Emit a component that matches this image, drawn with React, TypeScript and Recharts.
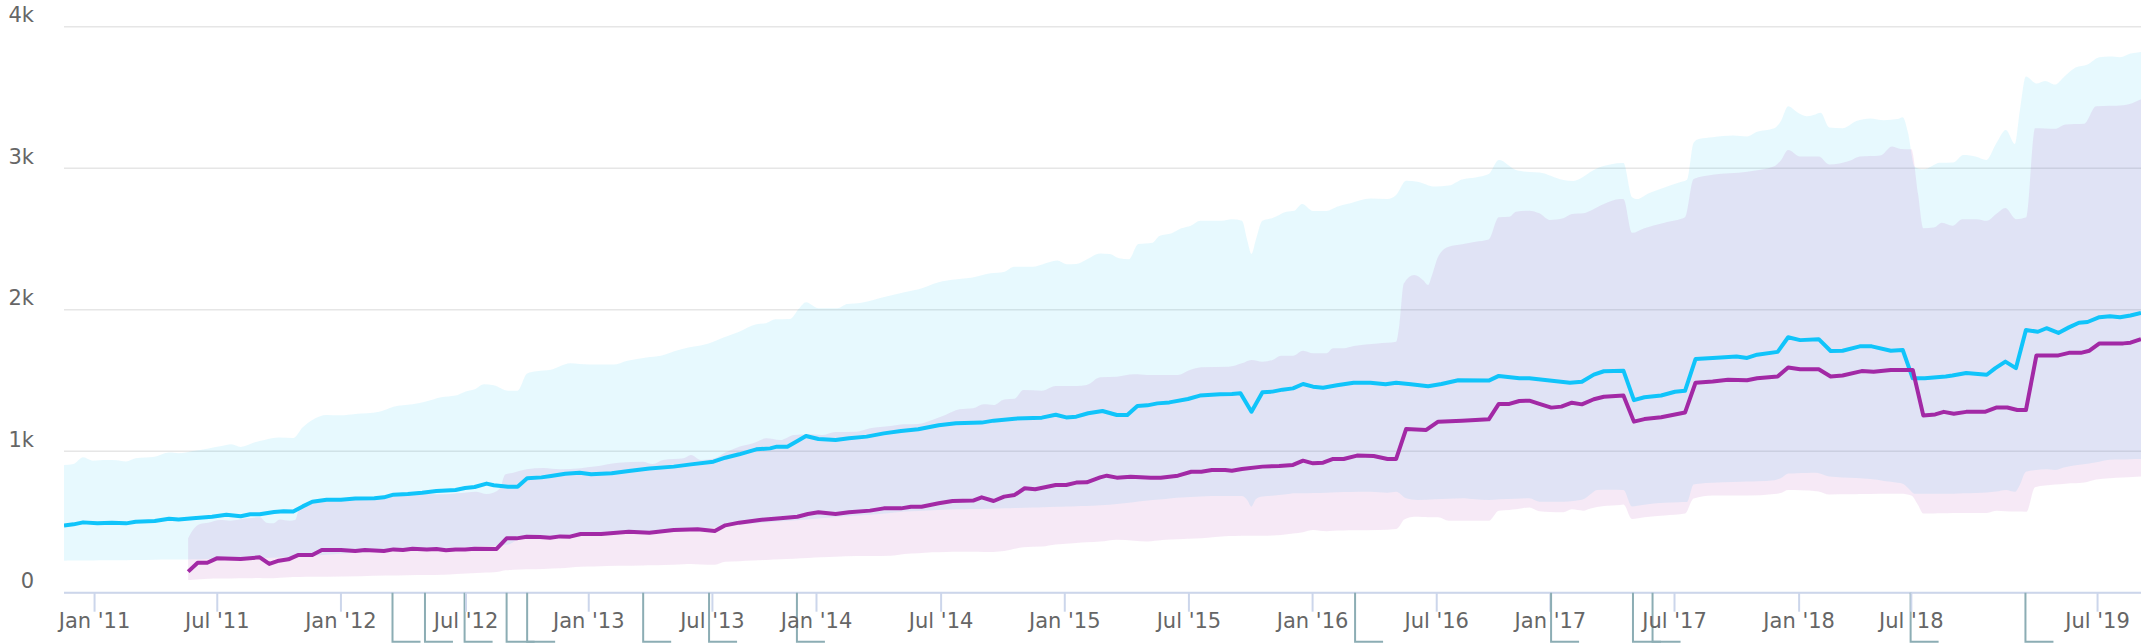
import React from 'react';
import { ComposedChart, Line, Area, XAxis, YAxis, CartesianGrid } from 'recharts';

// x positions are week indices on the (ordinal) time axis
const cyanLine: [number, number][] = [[0,474],[2,483],[4,497],[7,490],[10,495],[13,490],[15,502],[19,507],[22,523],[24,518],[27,526],[31,537],[34,551],[37,540],[39,554],[41,554],[44,570],[46,575],[48,573],[50,610],[52,643],[55,657],[58,657],[61,665],[65,667],[67,674],[69,693],[72,698],[75,707],[78,719],[82,726],[84,740],[86,747],[88.5,771],[90,759],[93,749],[95,749],[97,808],[100,815],[102,825],[105,841],[108,848],[110.4,837],[114.7,844],[118.3,860],[122.6,877],[127.7,891],[131.3,907],[136,926],[138.5,954],[141.4,978],[145,1013],[147.9,1020],[149.3,1032],[151.5,1032],[153.6,1072],[155.4,1107],[158,1086],[161.6,1079],[164.4,1091],[168.1,1103],[171.7,1126],[175.3,1143],[178.9,1155],[183.2,1183],[186.8,1197],[192.2,1202],[194.7,1216],[199.1,1230],[204.8,1237],[207.7,1258],[209.9,1239],[212,1244],[214.5,1268],[217.5,1284],[220.5,1256],[222.7,1256],[224.8,1320],[226.9,1324],[229,1338],[231.5,1345],[235.4,1369],[237.9,1393],[242.1,1402],[244.6,1404],[246.4,1409],[248.7,1279],[251,1416],[253.1,1421],[255.2,1435],[257.4,1444],[259.5,1475],[261.6,1456],[263.7,1449],[266.6,1466],[270.1,1484],[273.6,1484],[276.8,1473],[279,1484],[282.1,1473],[285.7,1459],[288.5,1475],[292,1501],[298.4,1499],[300.5,1532],[304.8,1515],[306.9,1515],[315.4,1484],[317.9,1491],[320.4,1541],[322.5,1565],[326.6,1569],[328.8,1361],[331,1381],[334.5,1394],[337.4,1420],[339.5,1427],[341.7,1651],[345.3,1659],[350.3,1669],[352.5,1659],[354.6,1682],[358.9,1702],[361.1,1805],[363.6,1785],[367.5,1792],[370,1708],[372.5,1710],[376.1,1741],[378.6,1741],[382.6,1710],[385.1,1715],[387.2,1515],[389.7,1515],[394.1,1528],[395.5,1535],[398.4,1553],[402.7,1540],[404.5,1587],[406.6,1633],[408.8,1587],[410.9,1857],[413.4,1844],[415.2,1869],[417.7,1836],[419.9,1875],[422,1908],[423.8,1913],[426.3,1947],[428.5,1954],[430.6,1947],[432.8,1959],[435,1977]];

const purpleLine: [number, number][] = [[26,149],[28,212],[30,212],[32,243],[37,238],[41,250],[43,203],[45,226],[47,236],[49,266],[52,266],[54,302],[58,302],[61,295],[63,302],[67,295],[69,306],[71,302],[73,311],[76,306],[78,309],[80,300],[82,306],[84,306],[86,311],[90.6,309],[92.7,384],[94.8,384],[96.9,396],[99.7,394],[101.8,389],[103.9,398],[106,396],[108.2,415],[112.5,415],[118.3,431],[122.6,424],[127.7,443],[132.7,448],[136.3,436],[138.5,476],[141.4,495],[145.7,514],[150,526],[153.6,537],[155.8,556],[158,568],[161.6,556],[164.4,568],[168.8,580],[171.7,596],[175.3,596],[177.4,608],[179.6,608],[183.2,632],[186.1,648],[190.4,651],[192.2,674],[194.7,648],[196.9,679],[199.1,691],[201.2,738],[203.4,731],[207.7,761],[209.9,761],[212,778],[214.2,780],[217,815],[218.4,827],[220.5,813],[223.4,820],[227.6,813],[229.7,813],[233.3,827],[236.1,855],[238.2,855],[240.4,867],[243.2,867],[244.6,862],[246.7,874],[251,891],[254.5,895],[257.4,903],[259.5,933],[261.6,914],[263.7,919],[265.8,945],[268,945],[270.8,969],[274.3,966],[277.2,945],[279,945],[281.1,1157],[285.3,1150],[287.8,1209],[292.8,1216],[298.4,1225],[300.5,1334],[302.7,1334],[304.8,1355],[306.9,1357],[309,1334],[311.5,1308],[313.6,1315],[315.8,1343],[317.9,1331],[320.4,1367],[322.5,1385],[326.6,1394],[328.8,1209],[331,1227],[334.5,1240],[339.5,1273],[341.7,1484],[345.3,1492],[348.5,1505],[352.5,1502],[354.6,1515],[358.9,1528],[361.1,1592],[363.6,1579],[367.5,1579],[370,1528],[372.5,1535],[376.5,1566],[379,1561],[382.6,1574],[387.2,1574],[389.4,1253],[391.9,1260],[393.7,1278],[395.8,1265],[398.4,1278],[402.3,1278],[404.8,1309],[407,1309],[409.1,1291],[410.9,1291],[413.1,1677],[417.7,1677],[419.9,1695],[422.4,1695],[424.2,1710],[426.3,1762],[431.3,1762],[432.8,1767],[435,1792]];

// [week, low, high]
const cyanBand: [number, number, number][] = [[0,226,903],[2,227,910],[4,227,957],[6,228,933],[9,229,938],[11,229,936],[13,230,928],[15,231,950],[19,233,961],[22,234,990],[24,235,985],[27,237,1001],[30,239,1018],[33,240,1037],[35,241,1049],[37,242,1030],[40,243,1063],[42,245,1079],[45,248,1096],[48,252,1093],[50,258,1169],[52,262,1221],[55,268,1256],[58,275,1254],[61,282,1263],[66,292,1279],[69,298,1315],[73,305,1331],[76,310,1353],[79,316,1381],[82,320,1393],[84,322,1421],[86,325,1437],[88,328,1473],[90,330,1466],[93,340,1428],[95,372,1428],[97,385,1550],[99,390,1565],[102,398,1576],[104,405,1602],[106,408,1621],[110,412,1612],[115,420,1612],[118,425,1640],[122,432,1663],[125,438,1675],[128,445,1708],[131,450,1734],[135,458,1762],[139,470,1814],[141,478,1838],[145,490,1897],[147,496,1904],[149,502,1932],[152,508,1934],[154,514,2010],[155.4,518,2052],[158,525,2010],[162,535,2010],[164,540,2040],[167,548,2050],[172,560,2092],[176,573,2123],[179,578,2144],[183,585,2193],[187,590,2215],[190,592,2226],[194,594,2257],[197,596,2269],[199,598,2304],[203,602,2304],[205,604,2321],[208,607,2347],[210,609,2321],[212,611,2323],[214,612,2351],[217,618,2398],[219,622,2394],[221,628,2363],[223,636,2356],[225,645,2464],[228,655,2474],[229.4,658,2521],[232,667,2540],[234,672,2575],[236,676,2594],[238,680,2629],[242.5,683,2629],[244.6,683,2639],[246.7,683,2629],[247.8,655,2493],[248.7,608,2394],[249.6,660,2493],[251,679,2629],[253,685,2646],[256,695,2693],[257.7,702,2700],[259.3,702,2747],[261.6,704,2698],[264.4,707,2698],[266.6,710,2728],[269.4,712,2752],[273.6,714,2785],[277.2,707,2782],[279,714,2811],[281.1,667,2912],[283.5,655,2905],[287.1,660,2870],[290,664,2877],[292.8,667,2921],[295.6,660,2935],[298.4,655,2959],[300.5,660,3058],[304.1,664,2987],[306.9,667,2973],[309,643,2969],[314,643,2917],[316.1,648,2910],[318.2,660,2940],[319.5,690,2970],[321.1,726,2999],[323.8,728,3026],[326.6,726,3036],[328.4,610,2795],[329.5,615,2782],[331.7,625,2820],[335.2,635,2864],[338.1,640,2897],[339.9,641,2918],[341.3,764,3180],[342.4,770,3206],[345.3,777,3219],[349.6,782,3231],[352.5,785,3224],[354.6,788,3257],[358.2,795,3283],[359.6,810,3334],[361.1,842,3437],[362.9,845,3398],[365,846,3368],[366.8,847,3380],[367.9,840,3391],[369.7,821,3288],[372.5,815,3283],[375.4,810,3334],[378.3,803,3352],[381.2,790,3339],[384,777,3347],[385.1,770,3360],[386.2,740,3250],[387.6,700,3011],[389.4,700,2992],[392.9,700,3039],[395.7,700,3041],[397.8,702,3093],[400.5,705,3081],[402.6,708,3058],[404.7,715,3176],[406.7,726,3270],[408.6,713,3171],[409.6,760,3400],[410.9,854,3648],[413.1,867,3599],[414.9,872,3617],[417,867,3591],[418.8,885,3643],[421.3,900,3712],[423.8,912,3733],[426.3,926,3784],[428.5,939,3789],[430.6,941,3784],[432.8,943,3810],[435,944,3822]];

const purpleBand: [number, number, number][] = [[26,90,384],[27,92,443],[28.5,95,485],[30.2,98,495],[32.7,100,514],[34.8,101,509],[38.3,102,526],[41,104,533],[42.4,102,495],[43.8,103,490],[45.2,106,518],[47.3,109,509],[48.4,111,514],[49.4,111,608],[52.2,112,641],[55,113,655],[62,116,660],[67.6,121,672],[71.8,124,690],[76,125,697],[79.4,127,695],[82.2,132,702],[86.4,140,714],[88.5,142,697],[89.9,144,707],[91.3,150,738],[92.4,158,836],[94.1,162,848],[96.9,165,872],[100.4,168,881],[103.9,172,872],[108.2,184,880],[111.1,186,891],[116.1,190,919],[121.2,193,926],[123.3,194,910],[125.5,196,938],[129.8,201,950],[131.3,203,973],[133.4,200,938],[136.3,198,950],[138.5,219,990],[141.4,222,1032],[144.3,227,1056],[147.1,231,1091],[150,236,1079],[152.9,240,1115],[155.8,245,1119],[158.7,250,1114],[161.6,254,1136],[165.9,259,1138],[168.8,260,1162],[173.1,262,1178],[176,274,1190],[178.9,279,1192],[181.8,285,1221],[184.6,288,1256],[187.5,290,1296],[190.4,289,1303],[192.6,288,1331],[194.7,288,1326],[196.9,294,1366],[199.1,310,1371],[200.9,322,1432],[204.8,326,1428],[207.7,340,1461],[212,352,1461],[214.2,356,1468],[217,361,1522],[220.5,375,1527],[224.1,368,1543],[226.9,362,1538],[230,372,1538],[233.3,378,1538],[235.4,381,1569],[238.2,385,1593],[243.9,400,1597],[246.7,403,1621],[248.7,403,1645],[251,403,1633],[253.1,405,1645],[254.9,408,1675],[257.4,418,1675],[259.5,428,1710],[261.6,443,1692],[264.4,434,1692],[265.8,438,1727],[268,440,1727],[270.1,441,1743],[275.1,443,1762],[279,450,1774],[279.7,470,1900],[280.6,515,2186],[282.8,537,2245],[284.6,535,2210],[285.7,534,2175],[286.4,534,2233],[287.8,533,2375],[290,509,2445],[292.8,509,2462],[295.6,509,2481],[298.4,509,2497],[300.5,580,2653],[302.7,585,2657],[304.1,589,2693],[306.9,603,2700],[309,575,2681],[311.2,570,2634],[314,568,2646],[315.8,589,2676],[318.2,580,2681],[319.7,595,2700],[322.5,612,2747],[325.9,620,2782],[326.6,623,2782],[328.4,520,2543],[331,533,2576],[335.2,545,2615],[339.5,559,2653],[341.3,665,2923],[345.3,687,2954],[352.5,687,2975],[358.2,698,3013],[359.6,705,3057],[361.1,726,3129],[363.6,724,3082],[367.5,716,3082],[369.7,694,3026],[374,695,3052],[376.1,697,3082],[380.4,700,3090],[382.9,700,3154],[384.7,700,3136],[386.9,687,3134],[388.3,620,2820],[389.4,559,2576],[391.6,560,2581],[393.3,561,2615],[395.5,564,2594],[397.6,564,2640],[400.5,564,2640],[402.7,564,2628],[404.8,579,2679],[406.6,576,2718],[408.8,573,2640],[411,572,2653],[412.8,745,3283],[417,764,3278],[419.2,770,3309],[423.1,778,3314],[425.6,800,3437],[431.3,815,3445],[435,821,3488]];

const xTickLabels: [number, string][] = [[6.4,"Jan '11"],[32.1,"Jul '11"],[58.0,"Jan '12"],[84.2,"Jul '12"],[109.9,"Jan '13"],[135.8,"Jul '13"],[157.6,"Jan '14"],[183.7,"Jul '14"],[209.6,"Jan '15"],[235.6,"Jul '15"],[261.5,"Jan '16"],[287.5,"Jul '16"],[311.3,"Jan '17"],[337.3,"Jul '17"],[363.4,"Jan '18"],[386.9,"Jul '18"],[425.9,"Jul '19"]];

const flagWeeks: number[] = [68.8, 75.6, 83.9, 92.7, 97.0, 121.3, 135.1, 153.5, 270.4, 311.45, 328.6, 332.7, 386.75, 410.8];

const yTicks: number[] = [0, 1000, 2000, 3000, 4000];

const CYAN = '#10c4fa';
const PURPLE = '#a229a5';
const FONT = '"DejaVu Sans", Verdana, sans-serif';

const labelMap = new Map<number, string>(xTickLabels);
const flagSet = new Set<number>(flagWeeks);
const allXTicks = [...xTickLabels.map((t) => t[0]), ...flagWeeks].sort((a, b) => a - b);

const linePts = (arr: [number, number][]) => arr.map(([w, v]) => ({ w, v }));
const bandPts = (arr: [number, number, number][]) => arr.map(([w, lo, hi]) => ({ w, r: [lo, hi] }));

const XTick = (props: any) => {
  const { x, y, payload } = props;
  const v = payload.value;
  if (flagSet.has(v)) {
    return (
      <g>
        <path d={`M${x},${y} L${x},${y + 49} L${x + 28},${y + 49}`} fill="none" stroke="#8cadb4" strokeWidth={2} />
      </g>
    );
  }
  const label = labelMap.get(v) ?? '';
  return (
    <g>
      <line x1={x} y1={y} x2={x} y2={y + 19} stroke="#ccd6eb" strokeWidth={2} />
      <text x={x} y={y + 35.5} textAnchor="middle" fontSize={21} fill="#666666" fontFamily={FONT}>
        {label}
      </text>
    </g>
  );
};

const YTick = (props: any) => {
  const { y, payload } = props;
  const v = payload.value as number;
  const label = v === 0 ? '0' : `${v / 1000}k`;
  return (
    <text x={34} y={y - 4.5} textAnchor="end" fontSize={21} fill="#666666" fontFamily={FONT}>
      {label}
    </text>
  );
};

export default function App() {
  return (
    <div style={{ position: 'absolute', left: 0, top: 0, width: 2146, height: 644, background: '#fff' }}>
      <ComposedChart width={2146} height={644} margin={{ top: 26.7, right: 5, bottom: 0, left: 0 }}>
        <CartesianGrid vertical={false} stroke="#e6e6e6" strokeWidth={1.5} />
        <XAxis
          dataKey="w"
          type="number"
          domain={[0, 435]}
          ticks={allXTicks}
          interval={0}
          height={51.3}
          tickSize={0}
          tickMargin={0}
          tickLine={false}
          axisLine={{ stroke: '#ccd6eb', strokeWidth: 2 }}
          tick={(p: any) => <XTick {...p} />}
          allowDataOverflow
        />
        <YAxis
          type="number"
          domain={[0, 4000]}
          ticks={yTicks}
          interval={0}
          width={64}
          axisLine={false}
          tickLine={false}
          tick={(p: any) => <YTick {...p} />}
          allowDataOverflow
        />
        <Area data={bandPts(cyanBand)} dataKey="r" type="monotone" stroke="none" fill={CYAN} fillOpacity={0.1} isAnimationActive={false} activeDot={false} dot={false} />
        <Area data={bandPts(purpleBand)} dataKey="r" type="monotone" stroke="none" fill={PURPLE} fillOpacity={0.1} isAnimationActive={false} activeDot={false} dot={false} />
        <Line data={linePts(cyanLine)} dataKey="v" type="linear" stroke={CYAN} strokeWidth={4} strokeLinejoin="round" dot={false} activeDot={false} isAnimationActive={false} />
        <Line data={linePts(purpleLine)} dataKey="v" type="linear" stroke={PURPLE} strokeWidth={4} strokeLinejoin="round" dot={false} activeDot={false} isAnimationActive={false} />
      </ComposedChart>
    </div>
  );
}
